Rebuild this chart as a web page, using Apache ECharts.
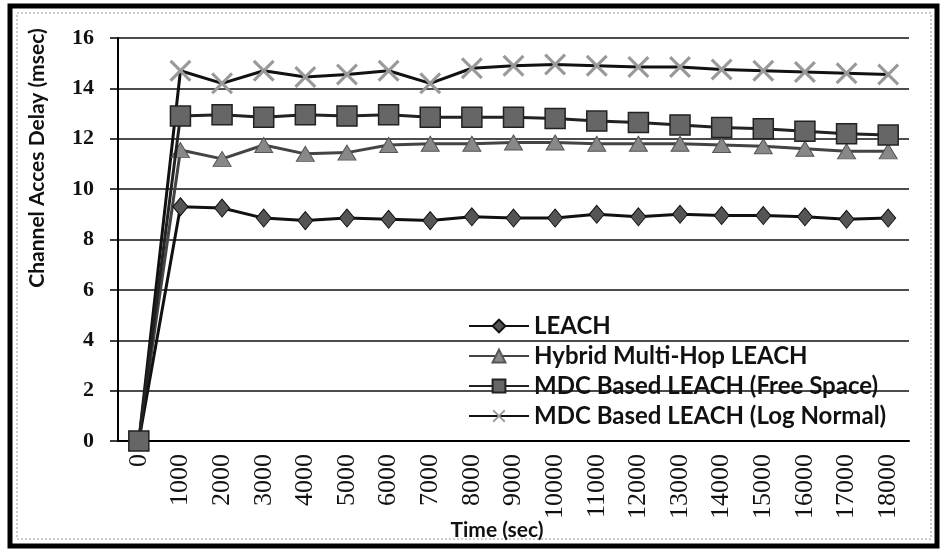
<!DOCTYPE html>
<html>
<head>
<meta charset="utf-8">
<script src="https://cdn.jsdelivr.net/npm/echarts@6/dist/echarts.min.js"></script>
<style>
  html, body { margin: 0; padding: 0; background: #fff; }
  #chart { width: 941px; height: 554px; }
</style>
</head>
<body>
<div id="chart"></div>
<script>
// Time axis categories (sec)
const timeLabels = ['0', '1000', '2000', '3000', '4000', '5000', '6000', '7000', '8000', '9000',
  '10000', '11000', '12000', '13000', '14000', '15000', '16000', '17000', '18000'];

// Channel access delay (msec) per protocol
const leach = [0, 9.3, 9.25, 8.85, 8.75, 8.85, 8.8, 8.75, 8.9, 8.85, 8.85, 9.0, 8.9, 9.0, 8.95, 8.95, 8.9, 8.8, 8.85];
const hybridMultiHop = [0, 11.55, 11.2, 11.75, 11.4, 11.45, 11.75, 11.8, 11.8, 11.85, 11.85, 11.8, 11.8, 11.8, 11.75, 11.7, 11.6, 11.5, 11.5];
const mdcFreeSpace = [0, 12.9, 12.95, 12.85, 12.95, 12.9, 12.95, 12.85, 12.85, 12.85, 12.8, 12.7, 12.65, 12.55, 12.45, 12.4, 12.3, 12.2, 12.15];
const mdcLogNormal = [0, 14.7, 14.2, 14.7, 14.45, 14.55, 14.7, 14.2, 14.8, 14.9, 14.95, 14.9, 14.85, 14.85, 14.75, 14.7, 14.65, 14.6, 14.55];

const seriesNames = ['LEACH', 'Hybrid Multi-Hop LEACH', 'MDC Based LEACH (Free Space)', 'MDC Based LEACH (Log Normal)'];

// Star-like cross marker drawn as a filled outline
const crossPath = 'path://M0,1L1,0L5,4L9,0L10,1L6,5L10,9L9,10L5,6L1,10L0,9L4,5Z';

const chart = echarts.init(document.getElementById('chart'), null, { renderer: 'canvas' });

const option = {
  backgroundColor: '#ffffff',
  animation: false,
  grid: { left: 118, right: 32, top: 38, bottom: 113, containLabel: false },
  xAxis: {
    type: 'category',
    data: timeLabels,
    boundaryGap: true,
    axisLine: { show: true, lineStyle: { color: '#000', width: 2 } },
    axisTick: { show: false },
    axisLabel: {
      interval: 0, rotate: 90, margin: 13,
      fontFamily: 'Liberation Serif', fontSize: 26, color: '#111'
    },
    splitLine: { show: false }
  },
  yAxis: {
    type: 'value',
    min: 0, max: 16, interval: 2,
    axisLine: { show: true, lineStyle: { color: '#000', width: 2 } },
    axisTick: { show: true, length: 8, lineStyle: { color: '#000', width: 1.5 } },
    axisLabel: {
      margin: 24, fontFamily: 'Liberation Serif', fontWeight: 'bold', fontSize: 22, color: '#111'
    },
    splitLine: { show: true, lineStyle: { color: '#111', width: 1.5 } }
  },
  legend: {
    orient: 'vertical',
    left: 463, top: 308,
    itemWidth: 60, itemHeight: 16, itemGap: 4,
    textStyle: { fontFamily: 'Lato', fontWeight: 'bold', fontSize: 24, color: '#111', lineHeight: 26 },
    data: seriesNames
  },
  series: [
    {
      name: seriesNames[0], type: 'line', data: leach,
      symbol: 'diamond', symbolSize: [15, 18],
      lineStyle: { color: '#111', width: 3 },
      itemStyle: { color: '#555', borderColor: '#111', borderWidth: 1 },
      z: 4
    },
    {
      name: seriesNames[1], type: 'line', data: hybridMultiHop,
      symbol: 'triangle', symbolSize: [18, 15],
      lineStyle: { color: '#444', width: 3 },
      itemStyle: { color: '#888', borderColor: '#555', borderWidth: 1 },
      z: 3
    },
    {
      name: seriesNames[2], type: 'line', data: mdcFreeSpace,
      symbol: 'rect', symbolSize: 20,
      lineStyle: { color: '#222', width: 3 },
      itemStyle: { color: '#666', borderColor: '#222', borderWidth: 1.5 },
      z: 5
    },
    {
      name: seriesNames[3], type: 'line', data: mdcLogNormal,
      symbol: crossPath, symbolSize: 22,
      lineStyle: { color: '#111', width: 3 },
      itemStyle: { color: '#999', borderColor: '#999', borderWidth: 0 },
      z: 2
    }
  ],
  graphic: [
    {
      type: 'rect', silent: true, z: -1,
      shape: { x: 10, y: 6, width: 927, height: 540 },
      style: { fill: 'none', stroke: '#000', lineWidth: 5 }
    },
    {
      type: 'rect', silent: true, z: -1,
      shape: { x: 17, y: 13, width: 914, height: 526 },
      style: { fill: 'none', stroke: '#999', lineWidth: 1, lineDash: [2, 2] }
    },
    {
      type: 'text', x: 37, y: 158, rotation: Math.PI / 2,
      style: {
        text: 'Channel Acces Delay (msec)',
        font: 'bold 21px Lato', fill: '#111',
        textAlign: 'center', textVerticalAlign: 'middle'
      }
    },
    {
      type: 'text', x: 497, y: 530,
      style: {
        text: 'Time (sec)',
        font: 'bold 21px Lato', fill: '#111',
        textAlign: 'center', textVerticalAlign: 'middle'
      }
    }
  ]
};

chart.setOption(option);
</script>
</body>
</html>
